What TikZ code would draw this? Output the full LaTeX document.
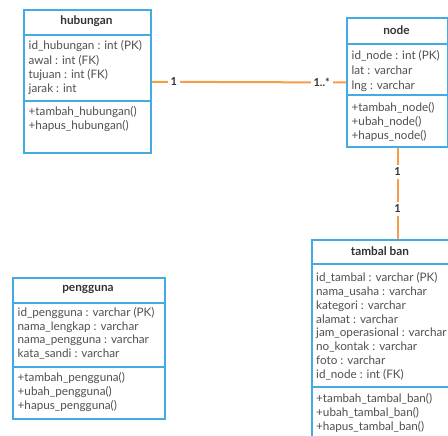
\documentclass[tikz,border=0pt]{standalone}
\usepackage{fontspec}
\setmainfont{Lato}
\definecolor{umlblue}{HTML}{42ABE6}
\definecolor{relorange}{HTML}{F79D45}
\definecolor{txt}{HTML}{505050}
\definecolor{ttl}{HTML}{333333}
\begin{document}
\begin{tikzpicture}[x=1pt,y=-1pt,
  box/.style={draw=umlblue,line width=2pt,fill=white,inner sep=0,anchor=north west},
  sep/.style={draw=umlblue,line width=2pt},
  ctitle/.style={font=\fontsize{11.8}{14}\selectfont\bfseries,text=ttl,inner sep=0},
  body/.style={font=\fontsize{11.7}{#1}\selectfont,text=txt,align=left,anchor=north west,inner sep=0},
  rel/.style={draw=relorange,line width=2pt},
  mult/.style={fill=white,font=\fontsize{11}{12}\selectfont\bfseries,text=ttl,inner sep=3pt}]
\useasboundingbox (0,0) rectangle (448,436);
\clip (0,0) rectangle (448,436);

% hubungan
\node[box,minimum width=127pt,minimum height=142.5pt] (hub) at (23,9.5) {};
\draw[sep] (hub.west |- 0,35) -- (hub.east |- 0,35);
\draw[sep] (hub.west |- 0,101) -- (hub.east |- 0,101);
\node[ctitle] (hubt) at (86.5,21) {hubungan};
\node[body=14.3pt] (huba) at (28.5,40.5) {id\_hubungan : int (PK)\\awal : int (FK)\\tujuan : int (FK)\\jarak : int};
\node[body=14.6pt] (hubm) at (28.5,106) {+tambah\_hubungan()\\+hapus\_hubungan()};

% node
\node[box,minimum width=101pt,minimum height=129pt] (nd) at (346,17) {};
\draw[sep] (nd.west |- 0,44) -- (nd.east |- 0,44);
\draw[sep] (nd.west |- 0,95) -- (nd.east |- 0,95);
\node[ctitle] (ndt) at (396.5,30) {node};
\node[body=15pt] (nda) at (351.5,50) {id\_node : int (PK)\\lat : varchar\\lng : varchar};
\node[body=14pt] (ndm) at (351.5,102) {+tambah\_node()\\+ubah\_node()\\+hapus\_node()};

% tambal ban
\node[box,minimum width=160pt,minimum height=210pt] (tb) at (311,239) {};
\draw[sep] (tb.west |- 0,264) -- (tb.east |- 0,264);
\draw[sep] (tb.west |- 0,387) -- (tb.east |- 0,387);
\node[ctitle] (tbt) at (380,251.5) {tambal ban};
\node[body=13.8pt] (tba) at (316,272.5) {id\_tambal : varchar (PK)\\nama\_usaha : varchar\\kategori : varchar\\alamat : varchar\\jam\_operasional : varchar\\no\_kontak : varchar\\foto : varchar\\id\_node : int (FK)};
\node[body=14.3pt] (tbm) at (316,393) {+tambah\_tambal\_ban()\\+ubah\_tambal\_ban()\\+hapus\_tambal\_ban()};

% pengguna
\node[box,minimum width=152pt,minimum height=141pt] (pg) at (12,277) {};
\draw[sep] (pg.west |- 0,303) -- (pg.east |- 0,303);
\draw[sep] (pg.west |- 0,367) -- (pg.east |- 0,367);
\node[ctitle] (pgt) at (88,289) {pengguna};
\node[body=13.6pt] (pga) at (17.5,307.5) {id\_pengguna : varchar (PK)\\nama\_lengkap : varchar\\nama\_pengguna : varchar\\kata\_sandi : varchar};
\node[body=13.8pt] (pgm) at (17.5,372.5) {+tambah\_pengguna()\\+ubah\_pengguna()\\+hapus\_pengguna()};

% relations
\draw[rel] (hub.east) -- node[mult,pos=0.112] (m1) {1} node[mult,pos=0.875] (m2) {1..*} (nd.west);
\draw[rel] (nd.south) -- node[mult,pos=0.26] (m3) {1} node[mult,pos=0.67] (m4) {1} (nd.south |- tb.north);
\end{tikzpicture}
\end{document}
